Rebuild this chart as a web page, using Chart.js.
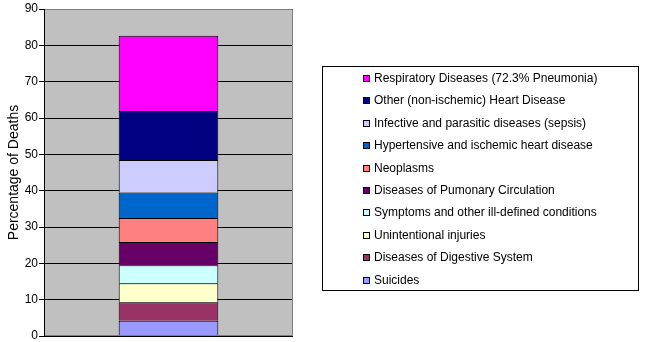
<!DOCTYPE html>
<html>
<head>
<meta charset="utf-8">
<script src="https://cdn.jsdelivr.net/npm/chart.js@4/dist/chart.umd.min.js"></script>
<style>
  body { margin: 0; background: #fff; }
  canvas { display: block; }
</style>
</head>
<body>
<canvas id="myChart" width="646" height="342"></canvas>
<script>
// stacked from the bottom up
const causes = [
  'Suicides',
  'Diseases of Digestive System',
  'Unintentional injuries',
  'Symptoms and other ill-defined conditions',
  'Diseases of Pumonary Circulation',
  'Neoplasms',
  'Hypertensive and ischemic heart disease',
  'Infective and parasitic diseases (sepsis)',
  'Other (non-ischemic) Heart Disease',
  'Respiratory Diseases (72.3% Pneumonia)'
];
const percentages = [4.2, 5.1, 5.2, 5.0, 6.35, 6.6, 7.05, 8.95, 13.5, 20.7];
const colors = ['#9999FF', '#993366', '#FFFFCC', '#CCFFFF', '#660066',
                '#FF8080', '#0066CC', '#CCCCFF', '#000080', '#FF00FF'];
const yTicks = [0, 10, 20, 30, 40, 50, 60, 70, 80, 90];

const FONT = 'Liberation Sans, Arial, sans-serif';

// grey plot background + grey frame
const plotArea = {
  id: 'plotArea',
  beforeDraw(chart) {
    const { ctx, chartArea: a } = chart;
    ctx.save();
    ctx.fillStyle = '#C0C0C0';
    ctx.fillRect(a.left, a.top, a.right - a.left, a.bottom - a.top);
    ctx.restore();
  },
  afterDatasetsDraw(chart) {
    const { ctx, chartArea: a } = chart;
    ctx.save();
    ctx.strokeStyle = '#808080';
    ctx.lineWidth = 1;
    ctx.beginPath();
    ctx.moveTo(a.left, a.top + 0.5);
    ctx.lineTo(a.right - 0.5, a.top + 0.5);
    ctx.lineTo(a.right - 0.5, a.bottom - 0.5);
    ctx.lineTo(a.left, a.bottom - 0.5);
    ctx.stroke();
    ctx.strokeStyle = '#000';
    ctx.beginPath();
    ctx.moveTo(a.left + 0.5, a.top);
    ctx.lineTo(a.left + 0.5, a.bottom);
    ctx.stroke();
    ctx.restore();
  }
};

// boxed legend on the right, top item = top of the stack
const boxLegend = {
  id: 'boxLegend',
  afterDraw(chart) {
    const ctx = chart.ctx;
    const sets = chart.data.datasets;
    ctx.save();
    ctx.fillStyle = '#fff';
    ctx.fillRect(322, 66, 316, 224);
    ctx.strokeStyle = '#000';
    ctx.lineWidth = 1;
    ctx.strokeRect(322.5, 66.5, 316, 224);
    ctx.font = '12px ' + FONT;
    ctx.textBaseline = 'middle';
    for (let i = 0; i < sets.length; i++) {
      const ds = sets[sets.length - 1 - i];
      const y = Math.round(78 + i * 22.4);
      ctx.fillStyle = ds.backgroundColor;
      ctx.fillRect(363, y - 3, 7, 7);
      ctx.strokeStyle = '#000';
      ctx.strokeRect(363.5, y - 2.5, 6, 6);
      ctx.fillStyle = '#000';
      ctx.fillText(ds.label, 374, y + 1);
    }
    ctx.restore();
  }
};

const ctx = document.getElementById('myChart').getContext('2d');
const myChart = new Chart(ctx, {
  type: 'bar',
  data: {
    labels: [''],
    datasets: causes.map((c, i) => ({
      label: c,
      data: [percentages[i]],
      backgroundColor: colors[i],
      borderColor: '#000',
      borderWidth: 1,
      barPercentage: 0.4,
      categoryPercentage: 1
    }))
  },
  options: {
    responsive: false,
    animation: false,
    layout: { padding: { top: 9, right: 353, bottom: 6, left: 0 } },
    plugins: {
      legend: { display: false },
      tooltip: { enabled: false }
    },
    scales: {
      x: {
        stacked: true,
        display: true,
        afterFit(scale) { scale.height = 0; },
        grid: { display: false },
        border: { display: false },
        ticks: { display: false }
      },
      y: {
        stacked: true,
        min: 0,
        max: 90,
        afterBuildTicks(scale) {
          scale.ticks = yTicks.map(v => ({ value: v }));
        },
        afterFit(scale) {
          scale.width = 44;
          scale.paddingTop = 0;
          scale.paddingBottom = 0;
        },
        border: { display: false },
        grid: { color: '#000', lineWidth: 1, tickLength: 5, drawOnChartArea: true },
        ticks: { color: '#000', font: { family: FONT, size: 12 }, padding: 1 },
        title: {
          display: true,
          text: 'Percentage of Deaths',
          color: '#000',
          font: { family: FONT, size: 14 },
          padding: { top: 6, bottom: 0 }
        }
      }
    }
  },
  plugins: [plotArea, boxLegend]
});
</script>
</body>
</html>
